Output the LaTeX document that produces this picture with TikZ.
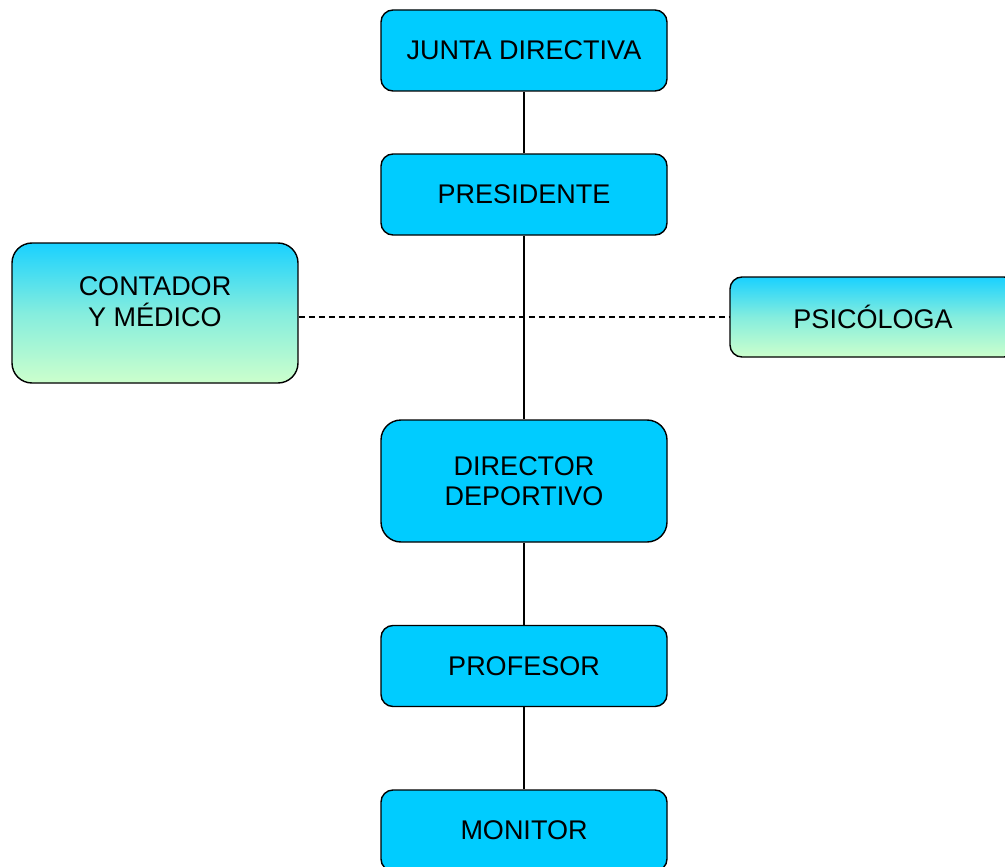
\documentclass[tikz,border=0pt]{standalone}
\usepackage{fontspec}
\setmainfont{Liberation Sans}
\definecolor{boxcyan}{RGB}{0,204,255}
\definecolor{boxgreen}{RGB}{204,255,204}
\begin{document}
\begin{tikzpicture}[x=1pt, y=-1pt,
	cargo/.style={draw=black, line width=1.4pt, fill=boxcyan, rounded corners=12pt,
		minimum width=286pt, minimum height=81pt, inner sep=0pt, align=center,
		font=\fontsize{27}{30}\selectfont},
	apoyo/.style={cargo, fill=none, top color=boxcyan!90, bottom color=boxgreen, middle color=boxcyan!35!boxgreen},
	linea/.style={line width=1.4pt},
	enlace/.style={line width=1.2pt, dashed, dash pattern=on 6pt off 4pt}]

	\useasboundingbox (0, 0) rectangle (1005, 867);

	% cadena de mando
	\node[cargo] (junta) at (524, 50.5) {JUNTA DIRECTIVA};
	\node[cargo] (presidente) at (524, 194.5) {PRESIDENTE};
	\node[cargo, minimum height=122pt, rounded corners=20pt] (director) at (524, 481) {DIRECTOR\\DEPORTIVO};
	\node[cargo] (profesor) at (524, 666) {PROFESOR};
	\node[cargo] (monitor) at (524, 830.5) {MONITOR};

	% apoyo externo
	\node[apoyo, minimum height=140pt, rounded corners=20pt] (contador) at (155, 313) {};
	\node[font=\fontsize{27}{31}\selectfont, align=center] (contadortxt) at (155, 302) {CONTADOR\\Y MÉDICO};
	\node[apoyo, minimum height=80pt] (psicologa) at (873, 317) {PSICÓLOGA};

	\draw[linea] (junta) -- (presidente);
	\draw[linea] (presidente) -- (director);
	\draw[linea] (director) -- (profesor);
	\draw[linea] (profesor) -- (monitor);

	\draw[enlace] (contador.east |- psicologa.west) -- (psicologa.west);

\end{tikzpicture}
\end{document}
